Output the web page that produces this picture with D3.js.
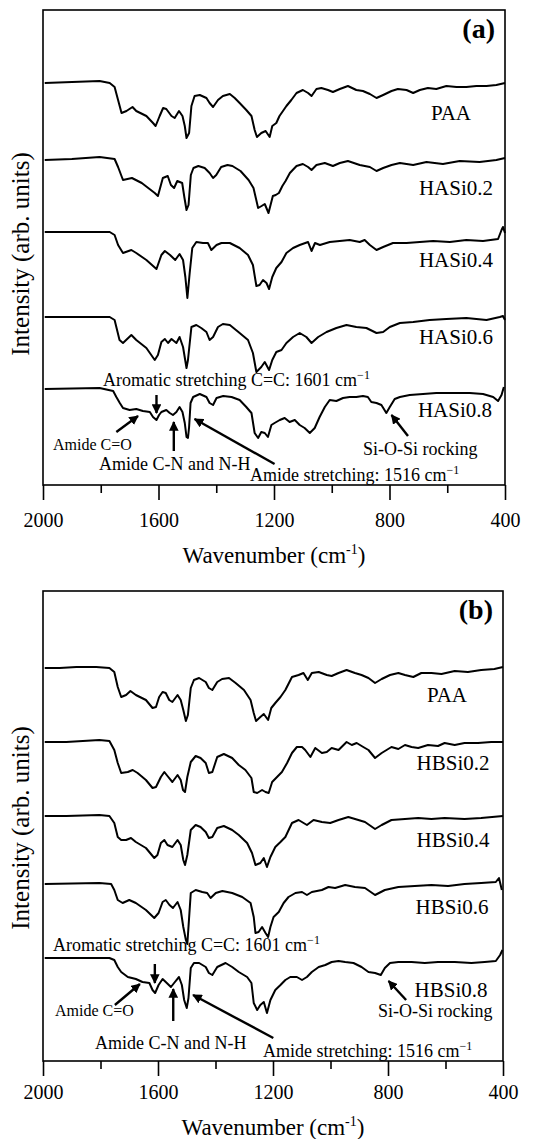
<!DOCTYPE html>
<html>
<head>
<meta charset="utf-8">
<script src="https://cdn.jsdelivr.net/npm/d3@7"></script>
<style>
  body { margin: 0; background: #fff; }
  svg { display: block; }
  text { font-family: "Liberation Serif", "Times New Roman", serif; fill: #000; }
</style>
</head>
<body>
<div id="chart"></div>
<script>
// spectra: [wavenumber (cm-1), intensity relative to baseline]
var paaA = [[1994,0],[1804,2],[1769,0],[1752,-4],[1740,-17],[1728,-30],[1711,-28],[1690,-24],[1677,-28],[1642,-33],[1619,-40],[1610,-43],[1596,-33],[1584,-25],[1573,-26],[1555,-33],[1544,-35],[1529,-28],[1517,-33],[1509,-43],[1503,-55],[1494,-50],[1486,-23],[1475,-13],[1457,-12],[1434,-15],[1423,-20],[1411,-24],[1394,-17],[1377,-13],[1353,-11],[1336,-15],[1319,-20],[1296,-27],[1278,-33],[1267,-47],[1259,-54],[1244,-50],[1229,-48],[1215,-54],[1206,-43],[1192,-40],[1181,-33],[1169,-28],[1157,-23],[1140,-17],[1122,-10],[1100,-7],[1082,-10],[1070,-13],[1053,-6],[1036,-5],[1013,-7],[996,-9],[972,-6],[944,-3],[915,-7],[892,-8],[868,-11],[845,-15],[822,-12],[793,-8],[771,-6],[741,-7],[718,-10],[695,-7],[667,-5],[638,-6],[603,-3],[568,-4],[534,-4],[499,-3],[464,-3],[430,-2],[400,0]];
var hasi02 = [[1994,-1],[1900,0],[1804,2],[1752,0],[1740,-8],[1723,-21],[1692,-19],[1658,-24],[1613,-34],[1602,-37],[1585,-19],[1568,-17],[1557,-26],[1546,-29],[1535,-22],[1518,-24],[1510,-39],[1503,-51],[1496,-46],[1488,-16],[1479,-9],[1462,-7],[1440,-9],[1423,-14],[1411,-19],[1400,-16],[1383,-8],[1361,-6],[1344,-7],[1316,-12],[1288,-21],[1271,-29],[1255,-49],[1243,-47],[1232,-45],[1219,-54],[1204,-37],[1194,-36],[1183,-34],[1171,-27],[1160,-22],[1145,-14],[1122,-7],[1100,-5],[1082,-8],[1070,-11],[1053,-6],[1024,-4],[996,-7],[972,-4],[944,-2],[903,-6],[868,-8],[845,-12],[822,-9],[793,-6],[764,-4],[718,-6],[672,-3],[615,-5],[557,-2],[488,-3],[430,-1],[400,1]];
var hasi04 = [[1994,0],[1769,0],[1752,-3],[1740,-13],[1723,-21],[1694,-18],[1677,-21],[1642,-28],[1607,-37],[1590,-23],[1578,-19],[1560,-23],[1542,-28],[1527,-22],[1515,-28],[1507,-45],[1500,-66],[1492,-41],[1483,-16],[1469,-10],[1446,-11],[1429,-11],[1417,-18],[1399,-13],[1382,-11],[1353,-11],[1319,-16],[1290,-23],[1273,-33],[1261,-54],[1250,-53],[1238,-48],[1226,-51],[1217,-57],[1206,-45],[1192,-36],[1174,-30],[1157,-21],[1134,-16],[1111,-13],[1082,-10],[1070,-19],[1058,-11],[1041,-13],[1007,-10],[938,-8],[903,-10],[886,-8],[868,-13],[845,-18],[822,-15],[788,-11],[741,-11],[695,-10],[649,-9],[591,-10],[534,-8],[476,-9],[424,-7],[412,2],[407,5],[400,-1]];
var hasi06 = [[1994,0],[1769,0],[1752,-3],[1735,-23],[1723,-26],[1694,-18],[1677,-23],[1642,-31],[1613,-43],[1602,-38],[1590,-25],[1578,-22],[1567,-26],[1555,-22],[1538,-26],[1527,-20],[1515,-30],[1503,-51],[1498,-43],[1486,-10],[1469,-8],[1452,-11],[1434,-15],[1423,-23],[1411,-20],[1394,-10],[1377,-7],[1353,-8],[1319,-16],[1290,-23],[1273,-36],[1261,-55],[1244,-50],[1232,-45],[1217,-53],[1206,-43],[1192,-35],[1174,-33],[1157,-26],[1134,-20],[1111,-16],[1088,-20],[1070,-26],[1047,-20],[1018,-15],[984,-11],[949,-8],[915,-10],[880,-11],[845,-16],[822,-15],[799,-10],[764,-6],[718,-5],[661,-3],[603,-2],[534,-1],[464,-3],[418,0],[407,1],[400,-3]];
var hasi08 = [[1994,0],[1804,1],[1757,-2],[1746,-8],[1734,-14],[1723,-19],[1700,-21],[1677,-20],[1654,-22],[1630,-23],[1619,-28],[1607,-31],[1598,-26],[1590,-23],[1573,-21],[1561,-24],[1550,-26],[1538,-23],[1527,-18],[1517,-23],[1509,-34],[1503,-48],[1498,-49],[1494,-38],[1489,-14],[1480,-8],[1457,-5],[1434,-8],[1423,-14],[1411,-16],[1399,-9],[1376,-7],[1347,-8],[1319,-11],[1296,-18],[1278,-24],[1267,-44],[1255,-49],[1244,-43],[1232,-44],[1221,-48],[1209,-36],[1198,-34],[1180,-31],[1163,-29],[1146,-33],[1128,-31],[1111,-36],[1094,-39],[1076,-44],[1059,-39],[1042,-28],[1024,-18],[1007,-11],[984,-12],[961,-9],[938,-8],[915,-8],[892,-7],[875,-8],[863,-13],[845,-14],[828,-16],[811,-24],[799,-18],[782,-10],[764,-8],[730,-6],[684,-5],[638,-4],[580,-4],[522,-4],[476,-5],[441,-8],[424,-12],[412,-6],[404,2]];

var paaB = [[1994,0],[1942,0],[1884,1],[1815,1],[1769,0],[1752,-4],[1740,-19],[1728,-29],[1711,-27],[1696,-23],[1677,-27],[1642,-32],[1619,-40],[1607,-39],[1596,-29],[1584,-24],[1573,-25],[1561,-32],[1550,-34],[1532,-27],[1521,-32],[1512,-42],[1503,-53],[1496,-47],[1486,-20],[1475,-12],[1457,-10],[1434,-14],[1423,-20],[1411,-22],[1394,-14],[1377,-11],[1353,-10],[1330,-15],[1301,-22],[1278,-32],[1267,-45],[1259,-53],[1244,-49],[1232,-46],[1217,-52],[1206,-40],[1192,-35],[1174,-29],[1157,-22],[1134,-9],[1111,-7],[1094,-5],[1079,-12],[1065,-5],[1041,-4],[1013,-7],[996,-8],[972,-5],[944,-2],[915,-5],[892,-7],[868,-10],[845,-15],[822,-11],[793,-7],[764,-5],[741,-7],[712,-9],[684,-5],[649,-5],[614,-6],[568,-3],[522,-4],[476,-2],[430,-1],[400,1]];
var hbsi02 = [[1994,0],[1919,0],[1804,2],[1769,1],[1752,-8],[1740,-21],[1728,-31],[1705,-30],[1688,-28],[1671,-31],[1642,-38],[1619,-46],[1607,-45],[1590,-35],[1578,-30],[1567,-34],[1550,-40],[1532,-33],[1521,-38],[1513,-48],[1506,-50],[1498,-35],[1486,-20],[1469,-14],[1452,-16],[1434,-21],[1423,-31],[1411,-30],[1394,-15],[1371,-12],[1342,-16],[1319,-23],[1296,-28],[1275,-36],[1267,-50],[1255,-51],[1238,-48],[1226,-50],[1215,-51],[1203,-40],[1186,-35],[1169,-30],[1151,-21],[1134,-11],[1117,-5],[1099,-5],[1088,-8],[1070,-15],[1053,-6],[1030,-11],[1013,-10],[996,-6],[972,-8],[944,0],[926,-3],[909,-1],[886,-5],[868,-8],[845,-16],[822,-11],[788,-5],[764,-7],[741,-3],[718,-5],[695,-6],[661,-3],[626,-4],[603,-1],[568,-3],[534,-1],[487,-1],[441,0],[400,0]];
var hbsi04 = [[1994,0],[1919,0],[1804,1],[1769,0],[1752,-7],[1740,-21],[1728,-24],[1711,-24],[1694,-22],[1677,-26],[1642,-32],[1613,-42],[1602,-39],[1590,-27],[1578,-24],[1567,-29],[1550,-31],[1532,-24],[1521,-29],[1512,-44],[1506,-49],[1498,-39],[1486,-14],[1469,-9],[1452,-11],[1434,-16],[1423,-22],[1411,-21],[1394,-12],[1371,-10],[1342,-14],[1319,-19],[1290,-27],[1273,-37],[1261,-49],[1244,-47],[1232,-42],[1221,-51],[1209,-41],[1192,-31],[1174,-26],[1157,-21],[1134,-7],[1111,-4],[1082,-9],[1059,-4],[1030,-6],[1001,-7],[972,-4],[938,-1],[903,-4],[880,-6],[845,-13],[822,-9],[788,-4],[741,-3],[695,-2],[649,-3],[603,-2],[534,-3],[476,-2],[400,0]];
var hbsi06 = [[1994,0],[1804,1],[1763,0],[1752,-6],[1740,-16],[1723,-19],[1700,-16],[1677,-19],[1642,-26],[1613,-34],[1598,-29],[1584,-18],[1573,-16],[1560,-21],[1548,-24],[1532,-18],[1521,-26],[1512,-43],[1503,-56],[1498,-60],[1494,-43],[1486,-9],[1469,-6],[1446,-8],[1429,-9],[1417,-14],[1399,-9],[1376,-7],[1342,-9],[1307,-13],[1278,-19],[1267,-33],[1261,-49],[1250,-48],[1238,-43],[1226,-49],[1217,-53],[1209,-43],[1198,-33],[1180,-28],[1163,-19],[1146,-13],[1122,-9],[1099,-8],[1082,-11],[1065,-8],[1030,-6],[1007,-3],[984,-4],[949,-1],[915,-3],[880,-4],[845,-11],[811,-6],[764,-3],[707,-2],[649,-1],[591,-2],[534,0],[476,1],[425,2],[414,6],[404,-6]];
var hbsi08 = [[1994,0],[1769,0],[1752,-2],[1740,-9],[1728,-14],[1705,-19],[1677,-21],[1654,-24],[1630,-25],[1619,-32],[1610,-35],[1598,-27],[1584,-21],[1573,-24],[1555,-29],[1544,-25],[1527,-19],[1517,-27],[1509,-42],[1500,-50],[1494,-40],[1486,-10],[1475,-5],[1457,-5],[1434,-9],[1423,-15],[1411,-17],[1394,-9],[1365,-5],[1342,-9],[1319,-14],[1290,-19],[1275,-25],[1267,-45],[1255,-52],[1244,-47],[1232,-44],[1221,-55],[1209,-42],[1192,-32],[1174,-27],[1157,-22],[1140,-19],[1117,-19],[1099,-22],[1082,-19],[1065,-14],[1041,-9],[1018,-7],[996,-4],[972,-3],[949,-4],[920,-5],[892,-9],[868,-14],[845,-15],[825,-17],[811,-10],[793,-5],[764,-4],[718,-4],[672,-5],[626,-4],[568,-4],[510,-5],[464,-4],[425,-3],[410,3],[402,8]];

var namesA = ["PAA", "HASi0.2", "HASi0.4", "HASi0.6", "HASi0.8"];
var namesB = ["PAA", "HBSi0.2", "HBSi0.4", "HBSi0.6", "HBSi0.8"];
var offsetsA = [402, 326, 253, 168, 96];   // stacking offsets (arb. units)
var offsetsB = [393, 319, 245, 177, 103];
var majorTicks = [2000, 1600, 1200, 800, 400];
var minorTicks = [1800, 1400, 1000, 600];

var W = 540, H = 1139;
var svg = d3.select("#chart").append("svg")
    .attr("width", W)
    .attr("height", H);

var defs = svg.append("defs");
defs.append("marker")
    .attr("id", "head")
    .attr("viewBox", "0 0 10 10")
    .attr("refX", 9).attr("refY", 5)
    .attr("markerWidth", 4).attr("markerHeight", 4)
    .attr("markerUnits", "strokeWidth")
    .attr("orient", "auto")
    .append("path")
    .attr("d", "M0,0L10,5L0,10z")
    .style("fill", "#000");

function drawPanel(cfg) {
    var width = cfg.right - cfg.left,
        height = cfg.bottom - cfg.top;

    var x = d3.scaleLinear().domain([2000, 400]).range([0, width]);
    var y = d3.scaleLinear().domain([0, height]).range([height, 0]);

    var g = svg.append("g")
        .attr("transform", "translate(" + cfg.left + "," + cfg.top + ")");

    // spectra
    cfg.series.forEach(function(s, i) {
        var off = cfg.offsets[i];
        var line = d3.line()
            .x(function(d) { return x(d[0]); })
            .y(function(d) { return y(d[1] + off); });
        g.append("path")
            .datum(s)
            .attr("d", line)
            .style("fill", "none")
            .style("stroke", "#000")
            .style("stroke-width", "2px")
            .style("stroke-linejoin", "round");

        g.append("text")
            .attr("x", cfg.labelX[i])
            .attr("y", y(off) + cfg.labelDy[i])
            .attr("text-anchor", "middle")
            .style("font-size", "21px")
            .text(cfg.names[i]);
    });

    // frame
    g.append("rect")
        .attr("width", width)
        .attr("height", height)
        .style("fill", "none")
        .style("stroke", "#000")
        .style("stroke-width", "1.6px");

    // bottom axis, major and minor ticks
    var ax = g.append("g")
        .attr("transform", "translate(0," + height + ")")
        .call(d3.axisBottom(x).tickValues(majorTicks).tickSize(15).tickPadding(cfg.pad).tickFormat(d3.format("d")));
    ax.select(".domain").remove();
    ax.selectAll("line").style("stroke-width", "1.6px");
    ax.selectAll("text").style("font-size", "20px").style("font-family", '"Liberation Serif", "Times New Roman", serif');

    var axm = g.append("g")
        .attr("transform", "translate(0," + height + ")")
        .call(d3.axisBottom(x).tickValues(minorTicks).tickSize(8).tickFormat(""));
    axm.select(".domain").remove();
    axm.selectAll("line").style("stroke-width", "1.6px");

    // axis titles
    var xt = g.append("text")
        .attr("x", width / 2)
        .attr("y", height + cfg.titleDy)
        .attr("text-anchor", "middle")
        .style("font-size", "23px");
    xt.append("tspan").text("Wavenumber (cm");
    xt.append("tspan").attr("dy", -9).style("font-size", "14px").text("-1");
    xt.append("tspan").attr("dy", 9).text(")");

    g.append("text")
        .attr("transform", "translate(" + (-14) + "," + cfg.yTitleMid + ") rotate(-90)")
        .attr("text-anchor", "middle")
        .style("font-size", "25px")
        .text("Intensity (arb. units)");

    // panel letter
    g.append("text")
        .attr("x", width - 10)
        .attr("y", 28)
        .attr("text-anchor", "end")
        .style("font-size", "28px")
        .style("font-weight", "bold")
        .text(cfg.letter);

    // annotations (y given in panel pixels)
    cfg.notes.forEach(function(n) {
        var t = g.append("text")
            .attr("x", n.x)
            .attr("y", n.y)
            .style("font-size", n.size + "px");
        t.append("tspan").text(n.text);
        if (n.sup) {
            t.append("tspan").attr("dy", -7).style("font-size", "12px").text(n.sup);
        }
    });
    cfg.arrows.forEach(function(a) {
        g.append("line")
            .attr("x1", x(a[0])).attr("y1", a[1])
            .attr("x2", x(a[2])).attr("y2", a[3])
            .style("stroke", "#000")
            .style("stroke-width", "2.4px")
            .attr("marker-end", "url(#head)");
    });
}

drawPanel({
    letter: "(a)",
    left: 43, right: 505, top: 10, bottom: 485,
    series: [paaA, hasi02, hasi04, hasi06, hasi08],
    names: namesA,
    offsets: offsetsA,
    labelX: [408, 413, 413, 413, 412],
    labelDy: [37, 36, 35, 27, 28],
    pad: 13,
    titleDy: 78,
    yTitleMid: 244,
    notes: [
        {text: "Aromatic stretching C=C: 1601 cm", sup: "\u22121", x: 60, y: 376, size: 18},
        {text: "Amide C=O", x: 10, y: 440, size: 16},
        {text: "Amide C-N and N-H", x: 56, y: 460, size: 18},
        {text: "Amide stretching: 1516 cm", sup: "\u22121", x: 207, y: 471, size: 18},
        {text: "Si-O-Si rocking", x: 320, y: 445, size: 18}
    ],
    arrows: [
        [1607, 385, 1607, 403],
        [1746, 422, 1671, 406],
        [1547, 441, 1547, 412],
        [1198, 454, 1475, 409],
        [736, 426, 793, 405]
    ]
});

drawPanel({
    letter: "(b)",
    left: 43, right: 503, top: 591, bottom: 1061,
    series: [paaB, hbsi02, hbsi04, hbsi06, hbsi08],
    names: namesB,
    offsets: offsetsB,
    labelX: [404, 410, 410, 409, 408],
    labelDy: [34, 28, 31, 30, 39],
    pad: 9,
    titleDy: 74,
    yTitleMid: 237,
    notes: [
        {text: "Aromatic stretching C=C: 1601 cm", sup: "\u22121", x: 10, y: 360, size: 18},
        {text: "Amide C=O", x: 12, y: 425, size: 16},
        {text: "Amide C-N and N-H", x: 52, y: 458, size: 18},
        {text: "Amide stretching: 1516 cm", sup: "\u22121", x: 220, y: 466, size: 18},
        {text: "Si-O-Si rocking", x: 335, y: 426, size: 18}
    ],
    arrows: [
        [1611, 373, 1611, 392],
        [1750, 414, 1663, 393],
        [1547, 430, 1547, 398],
        [1199, 447, 1478, 404],
        [737, 409, 798, 390]
    ]
});
</script>
</body>
</html>
